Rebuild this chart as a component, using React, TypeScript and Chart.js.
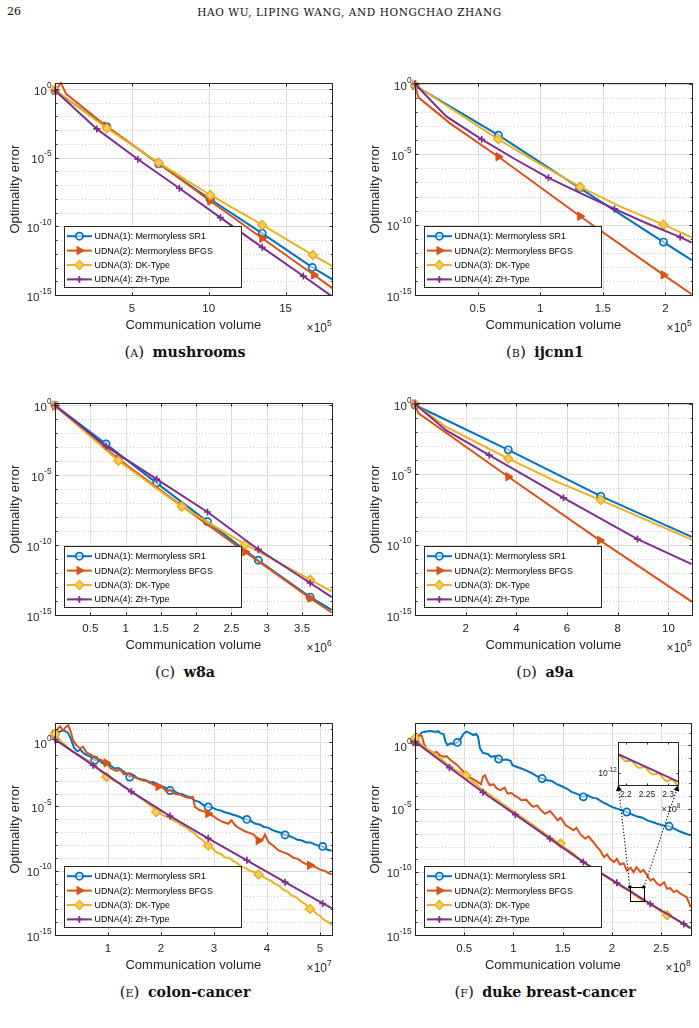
import { useEffect, useRef } from 'react';
import { Chart, registerables } from 'chart.js';
import { drawPoint } from 'chart.js/helpers';

Chart.register(...registerables);

// Each point: [communication volume (in units of the panel's ×10^n), log10(optimality error)]
type Pt = [number, number];

const methodNames = [
  'UDNA(1): Mermoryless SR1',
  'UDNA(2): Mermoryless BFGS',
  'UDNA(3): DK-Type',
  'UDNA(4): ZH-Type',
];

// ---------- (a) mushrooms, volume ×10^5 ----------
const mushroomsSR1: Pt[] = [[0, -0.12], [3.37, -2.75], [6.74, -5.45], [10.1, -8.03], [13.48, -10.51], [16.74, -12.99], [18.04, -13.86]];
const mushroomsSR1Marks = [0, 3.37, 6.74, 10.1, 13.48, 16.74];
const mushroomsBFGS: Pt[] = [[0, -0.12], [0.39, 0.42], [0.72, -0.36], [3.33, -2.7], [6.74, -5.41], [10.1, -8.16], [13.48, -10.87], [16.85, -13.54], [18.04, -14.5]];
const mushroomsBFGSMarks = [0, 3.33, 6.74, 10.1, 13.48, 16.85];
const mushroomsDK: Pt[] = [[0, -0.07], [3.37, -2.86], [6.74, -5.36], [10.1, -7.72], [13.48, -9.9], [16.78, -12.09], [18.04, -12.89]];
const mushroomsDKMarks = [0, 3.37, 6.74, 10.1, 13.48, 16.78];
const mushroomsZH: Pt[] = [[0, -0.12], [2.72, -2.91], [5.39, -5.12], [8.09, -7.23], [10.76, -9.37], [13.48, -11.53], [16.15, -13.62], [18.04, -15.12]];
const mushroomsZHMarks = [0, 2.72, 5.39, 8.09, 10.76, 13.48, 16.15];

// ---------- (b) ijcnn1, volume ×10^5 ----------
const ijcnn1SR1: Pt[] = [[0, -0.12], [0.666, -3.64], [1.314, -7.38], [1.985, -11.24], [2.21, -12.52]];
const ijcnn1SR1Marks = [0, 0.666, 1.314, 1.985];
const ijcnn1BFGS: Pt[] = [[0, -0.07], [0.027, -0.95], [0.28, -2.8], [0.666, -5.17], [1.319, -9.4], [1.985, -13.57], [2.21, -14.95]];
const ijcnn1BFGSMarks = [0, 0.666, 1.319, 1.985];
const ijcnn1DK: Pt[] = [[0, -0.07], [0.666, -3.93], [1.0, -5.7], [1.319, -7.31], [1.65, -8.75], [1.985, -10.0], [2.21, -10.9]];
const ijcnn1DKMarks = [0, 0.666, 1.319, 1.985];
const ijcnn1ZH: Pt[] = [[0, 0], [0.25, -2.3], [0.533, -3.93], [0.8, -5.35], [1.066, -6.67], [1.33, -7.8], [1.593, -8.88], [1.85, -9.9], [2.118, -10.88], [2.21, -11.28]];
const ijcnn1ZHMarks = [0, 0.533, 1.066, 1.593, 2.118];

// ---------- (c) w8a, volume ×10^6 ----------
const w8aSR1: Pt[] = [[0, 0], [0.723, -2.76], [1.441, -5.56], [2.16, -8.32], [2.88, -11.08], [3.615, -13.72], [3.92, -14.63]];
const w8aSR1Marks = [0, 0.723, 1.441, 2.16, 2.88, 3.615];
const w8aBFGS: Pt[] = [[0, -0.05], [0.898, -3.84], [1.796, -7.19], [2.694, -10.48], [3.615, -13.79], [3.92, -14.82]];
const w8aBFGSMarks = [0, 0.898, 1.796, 2.694, 3.615];
const w8aDK: Pt[] = [[0, 0], [0.898, -3.96], [1.796, -7.24], [2.694, -9.95], [3.615, -12.47], [3.92, -13.31]];
const w8aDKMarks = [0, 0.898, 1.796, 2.694, 3.615];
const w8aZH: Pt[] = [[0, 0], [0.723, -2.93], [1.441, -5.28], [2.16, -7.63], [2.88, -10.31], [3.615, -12.71], [3.92, -13.72]];
const w8aZHMarks = [0, 0.723, 1.441, 2.16, 2.88, 3.615];

// ---------- (d) a9a, volume ×10^5 ----------
const a9aSR1: Pt[] = [[0, -0.07], [3.68, -3.26], [7.33, -6.55], [10.92, -9.45]];
const a9aSR1Marks = [0, 3.68, 7.33];
const a9aBFGS: Pt[] = [[0, 0], [0.13, -0.64], [3.68, -5.17], [7.3, -9.69], [10.92, -14.05]];
const a9aBFGSMarks = [0, 3.68, 7.3];
const a9aDK: Pt[] = [[0, 0], [1.25, -1.65], [3.68, -3.88], [5.5, -5.45], [7.33, -6.83], [10.92, -9.64]];
const a9aDKMarks = [0, 3.68, 7.33];
const a9aZH: Pt[] = [[0, 0], [1.25, -1.9], [2.93, -3.64], [5.86, -6.67], [8.78, -9.6], [10.92, -11.38]];
const a9aZHMarks = [0, 2.93, 5.86, 8.78];

// ---------- (e) colon-cancer, volume ×10^7 ----------
const colonSR1: Pt[] = [
  [0, 0.63], [0.08, 0.8], [0.16, 0.92], [0.24, 0.75], [0.3, 0.25], [0.36, -0.45], [0.42, -0.7], [0.48, -0.6],
  [0.55, -0.9], [0.62, -1.05], [0.68, -1.15], [0.75, -1.41], [0.82, -1.38], [0.9, -1.65], [0.97, -1.72], [1.05, -1.82],
  [1.12, -2.05], [1.2, -2.02], [1.27, -2.22], [1.34, -2.45], [1.41, -2.72], [1.48, -2.55], [1.55, -2.8], [1.62, -2.88],
  [1.7, -2.95], [1.78, -3.15], [1.85, -3.1], [1.92, -3.3], [2.0, -3.4], [2.08, -3.55], [2.17, -3.77], [2.25, -3.82],
  [2.33, -4.0], [2.4, -4.05], [2.48, -4.2], [2.56, -4.3], [2.64, -4.55], [2.72, -4.65], [2.8, -4.9], [2.89, -5.04],
  [2.97, -5.1], [3.05, -5.25], [3.13, -5.33], [3.2, -5.45], [3.28, -5.53], [3.36, -5.65], [3.44, -5.75], [3.53, -5.9],
  [3.62, -6.01], [3.7, -6.15], [3.78, -6.35], [3.86, -6.4], [3.94, -6.6], [4.02, -6.65], [4.1, -6.85], [4.18, -6.95],
  [4.26, -7.05], [4.34, -7.22], [4.42, -7.3], [4.5, -7.45], [4.58, -7.6], [4.66, -7.65], [4.74, -7.8], [4.82, -7.8],
  [4.9, -7.95], [4.97, -8.05], [5.05, -8.11], [5.13, -8.35], [5.22, -8.45],
];
const colonSR1Marks = [0, 0.75, 1.41, 2.17, 2.89, 3.62, 4.34, 5.05];
const colonBFGS: Pt[] = [
  [0, 0.63], [0.06, 1.08], [0.1, 1.21], [0.15, 0.9], [0.2, 1.16], [0.25, 1.3], [0.29, 0.9], [0.34, 0.16],
  [0.4, -0.23], [0.47, -0.49], [0.53, -0.36], [0.6, -0.83], [0.69, -1.02], [0.78, -1.28], [0.88, -1.41], [0.97, -1.62],
  [1.06, -2.07], [1.16, -2.25], [1.23, -2.15], [1.3, -2.51], [1.38, -2.41], [1.47, -2.67], [1.57, -2.86], [1.66, -2.99],
  [1.76, -3.04], [1.85, -3.3], [1.95, -3.46], [2.04, -3.56], [2.1, -3.85], [2.18, -3.72], [2.26, -4.04], [2.36, -4.09],
  [2.45, -4.25], [2.53, -4.35], [2.6, -4.25], [2.64, -5.04], [2.73, -5.3], [2.81, -5.38], [2.89, -5.56], [2.99, -5.77],
  [3.08, -6.03], [3.17, -6.22], [3.27, -6.35], [3.33, -6.09], [3.4, -6.48], [3.49, -6.74], [3.58, -6.93], [3.68, -7.08],
  [3.75, -7.19], [3.84, -7.66], [3.92, -7.53], [3.96, -7.19], [4.03, -7.79], [4.12, -8.06], [4.21, -8.4], [4.31, -8.58],
  [4.4, -8.71], [4.5, -9.0], [4.59, -9.1], [4.69, -9.4], [4.75, -9.5], [4.81, -9.58], [4.91, -9.71], [5.0, -9.92],
  [5.1, -10.03], [5.16, -10.18], [5.22, -10.29],
];
const colonBFGSMarks = [0, 0.97, 1.95, 2.89, 3.84, 4.81];
const colonDK: Pt[] = [
  [0, 0.63], [0.06, 0.35], [0.12, 0.03], [0.19, -0.2], [0.25, -0.49], [0.33, -0.72], [0.4, -0.89], [0.48, -1.08],
  [0.56, -1.28], [0.64, -1.48], [0.72, -1.73], [0.78, -1.9], [0.84, -2.2], [0.9, -2.4], [0.97, -2.72], [1.05, -2.82],
  [1.13, -3.04], [1.21, -3.18], [1.29, -3.46], [1.36, -3.6], [1.44, -3.91], [1.52, -4.08], [1.6, -4.35], [1.68, -4.52],
  [1.76, -4.82], [1.84, -5.05], [1.91, -5.43], [1.99, -5.55], [2.07, -5.77], [2.15, -5.85], [2.23, -6.09], [2.31, -6.23],
  [2.39, -6.48], [2.47, -6.6], [2.54, -6.87], [2.62, -7.05], [2.7, -7.4], [2.8, -7.67], [2.89, -8.05], [2.97, -8.25],
  [3.05, -8.58], [3.13, -8.7], [3.21, -8.97], [3.29, -9.0], [3.36, -9.24], [3.44, -9.42], [3.52, -9.71], [3.6, -9.8],
  [3.68, -10.03], [3.76, -10.1], [3.84, -10.29], [3.92, -10.45], [3.99, -10.63], [4.07, -10.78], [4.15, -11.02], [4.23, -11.18],
  [4.31, -11.5], [4.39, -11.62], [4.47, -11.94], [4.55, -12.05], [4.62, -12.34], [4.72, -12.6], [4.81, -12.97], [4.88, -13.1],
  [4.94, -13.39], [5.0, -13.5], [5.06, -13.78], [5.14, -13.95], [5.22, -14.23],
];
const colonDKMarks = [0, 0.97, 1.91, 2.89, 3.84, 4.81];
const colonZH: Pt[] = [[0, 0.21], [0.72, -1.81], [1.44, -3.85], [2.17, -5.75], [2.89, -7.48], [3.62, -9.19], [4.34, -10.89], [5.05, -12.55], [5.22, -12.91]];
const colonZHMarks = [0, 0.72, 1.44, 2.17, 2.89, 3.62, 4.34, 5.05];

// ---------- (f) duke breast-cancer, volume ×10^8 ----------
const dukeSR1: Pt[] = [
  [0, 0.3], [0.03, 0.69], [0.07, 1.01], [0.1, 1.09], [0.15, 1.14], [0.2, 1.09], [0.24, 1.11], [0.26, 0.95],
  [0.29, 0.9], [0.31, 0.3], [0.33, 0.03], [0.36, 0.16], [0.4, 0.11], [0.43, 0.24], [0.46, 0.47], [0.49, 0.9],
  [0.52, 1.09], [0.55, 1.01], [0.59, 0.82], [0.62, 0.9], [0.64, 0.69], [0.66, -0.23], [0.69, -0.59], [0.74, -0.68],
  [0.77, -0.9], [0.81, -0.85], [0.85, -1.08], [0.89, -1.16], [0.93, -1.11], [0.97, -1.21], [0.99, -1.56], [1.03, -1.69],
  [1.08, -1.83], [1.14, -2.01], [1.19, -2.22], [1.24, -2.44], [1.29, -2.62], [1.34, -2.75], [1.39, -2.81], [1.44, -3.07],
  [1.49, -3.23], [1.54, -3.41], [1.59, -3.68], [1.64, -3.81], [1.71, -4.07], [1.75, -3.94], [1.8, -4.13], [1.85, -4.21],
  [1.9, -4.47], [1.95, -4.66], [2.0, -4.86], [2.05, -5.0], [2.1, -5.13], [2.15, -5.27], [2.2, -5.45], [2.25, -5.61],
  [2.31, -5.72], [2.36, -5.93], [2.41, -6.06], [2.46, -6.2], [2.53, -6.35], [2.58, -6.4], [2.63, -6.59], [2.68, -6.77],
  [2.73, -6.93], [2.8, -7.12],
];
const dukeSR1Marks = [0, 0.43, 0.85, 1.29, 1.71, 2.15, 2.58];
const dukeBFGS: Pt[] = [
  [0, 0.3], [0.02, 0.56], [0.04, 0.82], [0.07, 0.75], [0.09, 0.16], [0.12, -0.32], [0.15, -0.42], [0.19, -0.59],
  [0.22, -0.51], [0.25, -0.77], [0.29, -0.9], [0.32, -0.85], [0.36, -1.16], [0.4, -1.38], [0.43, -1.56], [0.47, -1.91],
  [0.51, -2.22], [0.54, -2.44], [0.58, -2.62], [0.62, -2.81], [0.67, -3.07], [0.69, -2.48], [0.71, -2.36], [0.74, -2.89],
  [0.76, -3.15], [0.8, -3.07], [0.83, -3.41], [0.87, -3.54], [0.91, -3.34], [0.94, -3.81], [0.98, -3.76], [1.02, -4.02],
  [1.05, -4.13], [1.08, -4.33], [1.13, -4.29], [1.17, -4.66], [1.2, -4.86], [1.24, -4.74], [1.28, -5.13], [1.32, -5.4],
  [1.37, -5.19], [1.41, -5.53], [1.45, -5.93], [1.48, -5.72], [1.53, -6.32], [1.57, -6.51], [1.61, -6.72], [1.64, -6.51],
  [1.68, -7.04], [1.73, -7.38], [1.76, -7.19], [1.81, -7.64], [1.85, -8.05], [1.88, -8.31], [1.92, -8.84], [1.95, -8.62],
  [1.98, -8.97], [2.02, -9.23], [2.05, -8.97], [2.08, -9.42], [2.12, -9.32], [2.15, -9.9], [2.19, -9.68], [2.22, -10.02],
  [2.25, -9.63], [2.29, -10.02], [2.32, -9.85], [2.36, -10.3], [2.39, -10.69], [2.42, -10.56], [2.46, -10.95], [2.49, -11.09],
  [2.53, -10.83], [2.56, -11.35], [2.59, -11.28], [2.63, -11.62], [2.66, -11.48], [2.69, -11.7], [2.73, -11.88], [2.76, -12.01],
  [2.8, -12.8],
];
const dukeBFGSMarks = [0];
const dukeDK: Pt[] = [
  [0, 0.56], [0.04, 0.27], [0.08, -0.03], [0.12, -0.27], [0.16, -0.47], [0.2, -0.66], [0.24, -0.91], [0.28, -1.15],
  [0.32, -1.45], [0.36, -1.64], [0.4, -1.89], [0.44, -2.08], [0.48, -2.23], [0.52, -2.38], [0.56, -2.72], [0.6, -2.92],
  [0.64, -3.21], [0.68, -3.5], [0.72, -3.7], [0.76, -3.89], [0.8, -4.14], [0.84, -4.33], [0.88, -4.58], [0.92, -4.78],
  [0.96, -5.02], [1.0, -5.22], [1.04, -5.46], [1.08, -5.66], [1.12, -5.85], [1.16, -6.1], [1.2, -6.29], [1.24, -6.54],
  [1.28, -6.73], [1.32, -6.98], [1.36, -7.17], [1.4, -7.42], [1.44, -7.61], [1.48, -7.76], [1.52, -8.1], [1.56, -8.3],
  [1.6, -8.5], [1.64, -8.79], [1.68, -9.03], [1.72, -9.23], [1.76, -9.47], [1.8, -9.72], [1.84, -9.92], [1.88, -10.11],
  [1.92, -10.31], [1.96, -10.5], [2.0, -10.7], [2.04, -10.89], [2.08, -11.09], [2.12, -11.29], [2.16, -11.41], [2.18, -11.51],
  [2.19, -11.61], [2.198, -11.69], [2.206, -11.69], [2.213, -11.67], [2.221, -11.78], [2.229, -11.86], [2.237, -11.86], [2.245, -11.83],
  [2.253, -11.94], [2.262, -12.03], [2.27, -12.03], [2.278, -11.99], [2.286, -12.1], [2.294, -12.19], [2.302, -12.19], [2.31, -12.15],
  [2.318, -12.26], [2.326, -12.35], [2.34, -12.33], [2.39, -12.57], [2.44, -12.82], [2.48, -13.05], [2.52, -13.25], [2.56, -13.44],
  [2.6, -13.55], [2.64, -13.73], [2.68, -13.93], [2.73, -14.17], [2.8, -14.48],
];
const dukeDKMarks = [0, 0.52, 1.48, 2.56];
const dukeZH: Pt[] = [[0, 0.3], [0.35, -1.75], [0.69, -3.71], [1.02, -5.48], [1.37, -7.38], [1.71, -9.23], [2.05, -10.87], [2.39, -12.54], [2.73, -14.12], [2.8, -14.45]];
const dukeZHMarks = [0, 0.35, 0.69, 1.02, 1.37, 1.71, 2.05, 2.39, 2.73];

// magnified window of panel (f): volume range (×10^8) and log10 error range
const dukeZoomX = [2.182, 2.324];
const dukeZoomLogErr = [-12.3, -11.2];
const dukeZoomXTicks = [2.2, 2.25, 2.3];

// ---------- styling ----------
const INK = '#262626';
const SANS = '"Liberation Sans", Arial, Helvetica, sans-serif';
const SERIF = '"DejaVu Serif", "Liberation Serif", serif';
const lineColors = ['#0072BD', '#D95319', '#EDB120', '#7E2F8E'];
const markerLook = [
  { style: 'circle', radius: 3.6, rotation: 0, fill: 'rgba(255,255,255,0.55)', border: 1.7 },
  { style: 'triangle', radius: 4.8, rotation: 90, fill: '#D95319', border: 1 },
  { style: 'rectRot', radius: 4.4, rotation: 0, fill: '#F4CC63', border: 1.5 },
  { style: 'cross', radius: 3.5, rotation: 0, fill: '#7E2F8E', border: 1.7 },
];

type Box = { l: number; t: number; r: number; b: number };
type PanelCfg = {
  id: string;
  left: number;
  top: number;
  box: Box;
  xMax: number;
  xTicks: number[];
  xPow: number;
  yTopPow: number;
  yBottomPow: number;
  series: [Pt[], number[]][];
  zoomWindow?: boolean;
};

const PANEL_W = 349;
const PANEL_H = 265;

// page position of the magnified window drawn over panel (f)
const INSET_BOX: Box = { l: 618.3, t: 741.7, r: 678.3, b: 785 };
const INSET_CANVAS = { left: 585, top: 735, w: 110, h: 82 };

const panels: PanelCfg[] = [
  {
    id: 'a', left: 0, top: 70, box: { l: 55, t: 83.3, r: 331.7, b: 295 },
    xMax: 18, xTicks: [5, 10, 15], xPow: 5, yTopPow: 0.41, yBottomPow: -15,
    series: [[mushroomsSR1, mushroomsSR1Marks], [mushroomsBFGS, mushroomsBFGSMarks], [mushroomsDK, mushroomsDKMarks], [mushroomsZH, mushroomsZHMarks]],
  },
  {
    id: 'b', left: 350, top: 70, box: { l: 415, t: 83.3, r: 691.7, b: 295 },
    xMax: 2.21, xTicks: [0.5, 1, 1.5, 2], xPow: 5, yTopPow: 0.05, yBottomPow: -15,
    series: [[ijcnn1SR1, ijcnn1SR1Marks], [ijcnn1BFGS, ijcnn1BFGSMarks], [ijcnn1DK, ijcnn1DKMarks], [ijcnn1ZH, ijcnn1ZHMarks]],
  },
  {
    id: 'c', left: 0, top: 390, box: { l: 55, t: 403.3, r: 331.7, b: 615 },
    xMax: 3.92, xTicks: [0.5, 1, 1.5, 2, 2.5, 3, 3.5], xPow: 6, yTopPow: 0.15, yBottomPow: -15,
    series: [[w8aSR1, w8aSR1Marks], [w8aBFGS, w8aBFGSMarks], [w8aDK, w8aDKMarks], [w8aZH, w8aZHMarks]],
  },
  {
    id: 'd', left: 350, top: 390, box: { l: 415, t: 403.3, r: 691.7, b: 615 },
    xMax: 10.92, xTicks: [2, 4, 6, 8, 10], xPow: 5, yTopPow: 0.05, yBottomPow: -15,
    series: [[a9aSR1, a9aSR1Marks], [a9aBFGS, a9aBFGSMarks], [a9aDK, a9aDKMarks], [a9aZH, a9aZHMarks]],
  },
  {
    id: 'e', left: 0, top: 710, box: { l: 55, t: 723.3, r: 331.7, b: 935 },
    xMax: 5.22, xTicks: [1, 2, 3, 4, 5], xPow: 7, yTopPow: 1.46, yBottomPow: -15,
    series: [[colonSR1, colonSR1Marks], [colonBFGS, colonBFGSMarks], [colonDK, colonDKMarks], [colonZH, colonZHMarks]],
  },
  {
    id: 'f', left: 350, top: 710, box: { l: 415, t: 723.3, r: 690.7, b: 935 },
    xMax: 2.8, xTicks: [0.5, 1, 1.5, 2, 2.5], xPow: 8, yTopPow: 1.75, yBottomPow: -15,
    series: [[dukeSR1, dukeSR1Marks], [dukeBFGS, dukeBFGSMarks], [dukeDK, dukeDKMarks], [dukeZH, dukeZHMarks]],
    zoomWindow: true,
  },
];

const captionTags = ['a', 'b', 'c', 'd', 'e', 'f'];
const captionNames = ['mushrooms', 'ijcnn1', 'w8a', 'a9a', 'colon-cancer', 'duke breast-cancer'];

// ---------- drawing helpers ----------
function seg(ctx: CanvasRenderingContext2D, x1: number, y1: number, x2: number, y2: number) {
  ctx.beginPath();
  ctx.moveTo(x1, y1);
  ctx.lineTo(x2, y2);
  ctx.stroke();
}

// "10" (or "×10") followed by a raised exponent; (x, baseline) anchors the left or right end
function drawPower(
  ctx: CanvasRenderingContext2D, x: number, baseline: number, lead: string, exp: string,
  size: number, expSize: number, raise: number, align: 'left' | 'right',
) {
  ctx.font = `${size}px ${SANS}`;
  const w1 = ctx.measureText(lead).width;
  ctx.font = `${expSize}px ${SANS}`;
  const w2 = ctx.measureText(exp).width;
  const x0 = align === 'right' ? x - w1 - w2 : x;
  ctx.textAlign = 'left';
  ctx.textBaseline = 'alphabetic';
  ctx.font = `${size}px ${SANS}`;
  ctx.fillText(lead, x0, baseline);
  ctx.font = `${expSize}px ${SANS}`;
  ctx.fillText(exp, x0 + w1, baseline - raise);
}

function buildDatasets(series: [Pt[], number[]][], withMarks: boolean) {
  return series.map(([pts, marks], i) => {
    const m = markerLook[i];
    return {
      label: methodNames[i],
      data: pts.map(([x, e]) => ({ x, y: Math.pow(10, e) })),
      borderColor: lineColors[i],
      backgroundColor: m.fill,
      borderWidth: 2,
      tension: 0,
      fill: false,
      pointStyle: m.style,
      pointRotation: m.rotation,
      pointRadius: pts.map(([x]) => (withMarks && marks.includes(x) ? m.radius : 0)),
      pointHoverRadius: 0,
      pointBorderWidth: m.border,
      pointBorderColor: lineColors[i],
      pointBackgroundColor: m.fill,
      order: 3 - i,
      clip: { left: 6, top: 6, right: 1, bottom: 1 },
    };
  });
}

function drawLegend(ctx: CanvasRenderingContext2D, a: { left: number; bottom: number }) {
  const lx = Math.round(a.left + 9.3) + 0.5;
  const ly = Math.round(a.bottom - 69) + 0.5;
  const lw = 177;
  const lh = 61;
  ctx.fillStyle = '#ffffff';
  ctx.fillRect(lx, ly, lw, lh);
  ctx.strokeStyle = INK;
  ctx.lineWidth = 1;
  ctx.strokeRect(lx, ly, lw, lh);
  methodNames.forEach((name, i) => {
    const cy = ly + 9.7 + 14.4 * i;
    ctx.strokeStyle = lineColors[i];
    ctx.lineWidth = 2;
    seg(ctx, lx + 2.4, cy, lx + 27.4, cy);
    const m = markerLook[i];
    ctx.fillStyle = m.fill;
    ctx.strokeStyle = lineColors[i];
    ctx.lineWidth = m.border;
    drawPoint(ctx, { pointStyle: m.style as any, radius: m.radius, rotation: m.rotation, borderWidth: m.border }, lx + 14.9, cy);
    ctx.fillStyle = '#000000';
    ctx.font = `8.9px ${SANS}`;
    ctx.textAlign = 'left';
    ctx.textBaseline = 'middle';
    ctx.fillText(name, lx + 30, cy + 0.5);
  });
}

function drawArrow(ctx: CanvasRenderingContext2D, x1: number, y1: number, x2: number, y2: number) {
  const ang = Math.atan2(y2 - y1, x2 - x1);
  const head = 6;
  ctx.save();
  ctx.setLineDash([1.2, 2]);
  ctx.strokeStyle = '#000000';
  ctx.lineWidth = 1.1;
  seg(ctx, x1, y1, x2 - head * Math.cos(ang), y2 - head * Math.sin(ang));
  ctx.setLineDash([]);
  ctx.fillStyle = '#000000';
  ctx.beginPath();
  ctx.moveTo(x2, y2);
  ctx.lineTo(x2 - head * Math.cos(ang) + 3 * Math.sin(ang), y2 - head * Math.sin(ang) - 3 * Math.cos(ang));
  ctx.lineTo(x2 - head * Math.cos(ang) - 3 * Math.sin(ang), y2 - head * Math.sin(ang) + 3 * Math.cos(ang));
  ctx.closePath();
  ctx.fill();
  ctx.beginPath();
  ctx.arc(x1, y1, 1.8, 0, Math.PI * 2);
  ctx.fill();
  ctx.restore();
}

// grid, box, tick labels, axis titles and legend in MATLAB style
function axesDecor(p: PanelCfg) {
  return {
    id: 'axesDecor',
    beforeDatasetsDraw(chart: any) {
      const { ctx, chartArea: a } = chart;
      const xs = chart.scales.x;
      const ys = chart.scales.y;
      ctx.save();
      ctx.lineWidth = 1;
      for (let e = Math.ceil(p.yBottomPow); e <= Math.floor(p.yTopPow); e++) {
        const py = Math.round(ys.getPixelForValue(Math.pow(10, e))) + 0.5;
        const major = e % 5 === 0;
        ctx.strokeStyle = major ? '#dcdcdc' : '#cdcdcd';
        ctx.setLineDash(major ? [] : [1, 2]);
        seg(ctx, a.left, py, a.right, py);
      }
      ctx.setLineDash([]);
      ctx.strokeStyle = '#dcdcdc';
      for (const t of p.xTicks) {
        const px = Math.round(xs.getPixelForValue(t)) + 0.5;
        seg(ctx, px, a.top, px, a.bottom);
      }
      ctx.restore();
    },
    afterDatasetsDraw(chart: any) {
      const { ctx, chartArea: a } = chart;
      const xs = chart.scales.x;
      const ys = chart.scales.y;
      ctx.save();
      const L = Math.round(a.left) + 0.5;
      const T = Math.round(a.top) + 0.5;
      const R = Math.round(a.right) + 0.5;
      const B = Math.round(a.bottom) + 0.5;
      ctx.strokeStyle = INK;
      ctx.lineWidth = 1;
      ctx.strokeRect(L, T, R - L, B - T);

      // tick marks (inside the box)
      for (const t of p.xTicks) {
        const px = Math.round(xs.getPixelForValue(t)) + 0.5;
        seg(ctx, px, B, px, B - 3);
        seg(ctx, px, T, px, T + 3);
      }
      for (let e = Math.ceil(p.yBottomPow); e <= Math.floor(p.yTopPow); e++) {
        const py = Math.round(ys.getPixelForValue(Math.pow(10, e))) + 0.5;
        const len = e % 5 === 0 ? 3 : 1.8;
        seg(ctx, L, py, L + len, py);
        seg(ctx, R, py, R - len, py);
      }

      ctx.fillStyle = INK;
      // x tick labels
      ctx.font = `11.5px ${SANS}`;
      ctx.textAlign = 'center';
      ctx.textBaseline = 'alphabetic';
      for (const t of p.xTicks) {
        ctx.fillText(String(t), xs.getPixelForValue(t), a.bottom + 17.4);
      }
      // y tick labels 10^k every five decades
      for (let e = 0; e >= p.yBottomPow; e -= 5) {
        const py = ys.getPixelForValue(Math.pow(10, e));
        drawPower(ctx, a.left - 3.5, py + 5.6, '10', String(e), 11.5, 8.3, 7, 'right');
      }
      // x exponent
      drawPower(ctx, a.right, a.bottom + 36.6, '\u00d710', String(p.xPow), 12, 8.5, 6, 'right');

      // axis titles
      ctx.font = `13px ${SANS}`;
      ctx.textAlign = 'center';
      ctx.textBaseline = 'middle';
      ctx.fillText('Communication volume', (a.left + a.right) / 2, a.bottom + 30);
      ctx.save();
      ctx.translate(a.left - 40, (a.top + a.bottom) / 2);
      ctx.rotate(-Math.PI / 2);
      ctx.fillText('Optimality error', 0, 0);
      ctx.restore();

      drawLegend(ctx, a);

      if (p.zoomWindow) {
        const rx1 = xs.getPixelForValue(dukeZoomX[0]);
        const rx2 = xs.getPixelForValue(dukeZoomX[1]);
        const ry1 = ys.getPixelForValue(Math.pow(10, dukeZoomLogErr[1]));
        const ry2 = ys.getPixelForValue(Math.pow(10, dukeZoomLogErr[0]));
        ctx.strokeStyle = '#000000';
        ctx.lineWidth = 1;
        ctx.strokeRect(Math.round(rx1) + 0.5, Math.round(ry1) + 0.5, Math.round(rx2 - rx1), Math.round(ry2 - ry1));
        drawArrow(ctx, rx1, ry1, INSET_BOX.l - p.left, INSET_BOX.b - p.top);
        drawArrow(ctx, rx2, ry1, INSET_BOX.r - p.left, INSET_BOX.b - p.top);
      }
      ctx.restore();
    },
  };
}

function Panel({ p }: { p: PanelCfg }) {
  const ref = useRef<HTMLCanvasElement | null>(null);
  useEffect(() => {
    const canvas = ref.current;
    if (!canvas) return;
    const chart = new Chart(canvas, {
      type: 'line',
      data: { datasets: buildDatasets(p.series, true) as any },
      options: {
        responsive: false,
        animation: false,
        devicePixelRatio: 1,
        events: [],
        layout: {
          padding: {
            left: p.box.l - p.left,
            top: p.box.t - p.top,
            right: p.left + PANEL_W - p.box.r,
            bottom: p.top + PANEL_H - p.box.b,
          },
        },
        plugins: { legend: { display: false }, tooltip: { enabled: false } },
        scales: {
          x: { type: 'linear', display: false, min: 0, max: p.xMax },
          y: { type: 'logarithmic', display: false, min: Math.pow(10, p.yBottomPow), max: Math.pow(10, p.yTopPow) },
        },
      },
      plugins: [axesDecor(p) as any],
    });
    return () => chart.destroy();
  }, [p]);
  return (
    <canvas
      ref={ref}
      width={PANEL_W}
      height={PANEL_H}
      style={{ position: 'absolute', left: p.left, top: p.top, width: PANEL_W, height: PANEL_H }}
    />
  );
}

// magnified view of the DK / ZH curves of panel (f)
function DukeInset() {
  const ref = useRef<HTMLCanvasElement | null>(null);
  useEffect(() => {
    const canvas = ref.current;
    if (!canvas) return;
    const series: [Pt[], number[]][] = [[dukeDK, dukeDKMarks], [dukeZH, dukeZHMarks]];
    const datasets = buildDatasets([[[], []], [[], []], ...series], false).slice(2);
    datasets.forEach((d: any) => { d.clip = 0; });
    const decor = {
      id: 'insetDecor',
      beforeDatasetsDraw(chart: any) {
        const { ctx, chartArea: a } = chart;
        ctx.save();
        ctx.fillStyle = '#ffffff';
        ctx.fillRect(a.left, a.top, a.right - a.left, a.bottom - a.top);
        ctx.restore();
      },
      afterDatasetsDraw(chart: any) {
        const { ctx, chartArea: a } = chart;
        const xs = chart.scales.x;
        const ys = chart.scales.y;
        ctx.save();
        const L = Math.round(a.left) + 0.5;
        const T = Math.round(a.top) + 0.5;
        const R = Math.round(a.right) + 0.5;
        const B = Math.round(a.bottom) + 0.5;
        ctx.strokeStyle = INK;
        ctx.lineWidth = 1;
        ctx.strokeRect(L, T, R - L, B - T);
        ctx.fillStyle = INK;
        ctx.font = `8.5px ${SANS}`;
        ctx.textAlign = 'center';
        ctx.textBaseline = 'middle';
        for (const t of dukeZoomXTicks) {
          const px = Math.round(xs.getPixelForValue(t)) + 0.5;
          seg(ctx, px, B, px, B - 2);
          seg(ctx, px, T, px, T + 2);
          ctx.fillText(String(t), xs.getPixelForValue(t), a.bottom + 10);
        }
        const py = ys.getPixelForValue(1e-12);
        seg(ctx, L, Math.round(py) + 0.5, L + 2, Math.round(py) + 0.5);
        seg(ctx, R, Math.round(py) + 0.5, R - 2, Math.round(py) + 0.5);
        drawPower(ctx, a.left - 1.5, py + 3, '10', '-12', 8.5, 6.3, 4.5, 'right');
        drawPower(ctx, a.right + 2, a.bottom + 27, '\u00d710', '8', 9, 6.5, 4.5, 'right');
        ctx.restore();
      },
    };
    const chart = new Chart(canvas, {
      type: 'line',
      data: { datasets: datasets as any },
      options: {
        responsive: false,
        animation: false,
        devicePixelRatio: 1,
        events: [],
        layout: {
          padding: {
            left: INSET_BOX.l - INSET_CANVAS.left,
            top: INSET_BOX.t - INSET_CANVAS.top,
            right: INSET_CANVAS.left + INSET_CANVAS.w - INSET_BOX.r,
            bottom: INSET_CANVAS.top + INSET_CANVAS.h - INSET_BOX.b,
          },
        },
        plugins: { legend: { display: false }, tooltip: { enabled: false } },
        scales: {
          x: { type: 'linear', display: false, min: dukeZoomX[0], max: dukeZoomX[1] },
          y: { type: 'logarithmic', display: false, min: Math.pow(10, dukeZoomLogErr[0]), max: Math.pow(10, dukeZoomLogErr[1]) },
        },
      },
      plugins: [decor as any],
    });
    return () => chart.destroy();
  }, []);
  return (
    <canvas
      ref={ref}
      width={INSET_CANVAS.w}
      height={INSET_CANVAS.h}
      style={{ position: 'absolute', left: INSET_CANVAS.left, top: INSET_CANVAS.top, width: INSET_CANVAS.w, height: INSET_CANVAS.h }}
    />
  );
}

export default function App() {
  return (
    <div style={{ position: 'absolute', left: 0, top: 0, width: 699, height: 1028, background: '#ffffff', overflow: 'hidden' }}>
      <div style={{ position: 'absolute', left: 7, top: 5, fontFamily: SERIF, fontSize: 11, lineHeight: '14px', color: '#111' }}>26</div>
      <div
        style={{
          position: 'absolute', left: 0, top: 5, width: 699, textAlign: 'center',
          fontFamily: SERIF, fontSize: 10.5, letterSpacing: 0.6, lineHeight: '14px', color: '#111',
        }}
      >
        HAO WU, LIPING WANG, AND HONGCHAO ZHANG
      </div>
      {panels.map((p) => (
        <Panel key={p.id} p={p} />
      ))}
      <DukeInset />
      {panels.map((p, i) => {
        const cx = p.left === 0 ? 185 : 545;
        const cy = p.top + 281.7;
        return (
          <div
            key={`cap-${p.id}`}
            style={{
              position: 'absolute', left: cx - 170, width: 340, top: cy - 10, textAlign: 'center',
              fontFamily: SERIF, fontSize: 14.2, lineHeight: '20px', color: '#111', whiteSpace: 'nowrap',
            }}
          >
            <span style={{ fontVariant: 'small-caps', fontSize: 15, marginRight: 4 }}>({captionTags[i]})</span>{' '}
            <b>{captionNames[i]}</b>
          </div>
        );
      })}
    </div>
  );
}
